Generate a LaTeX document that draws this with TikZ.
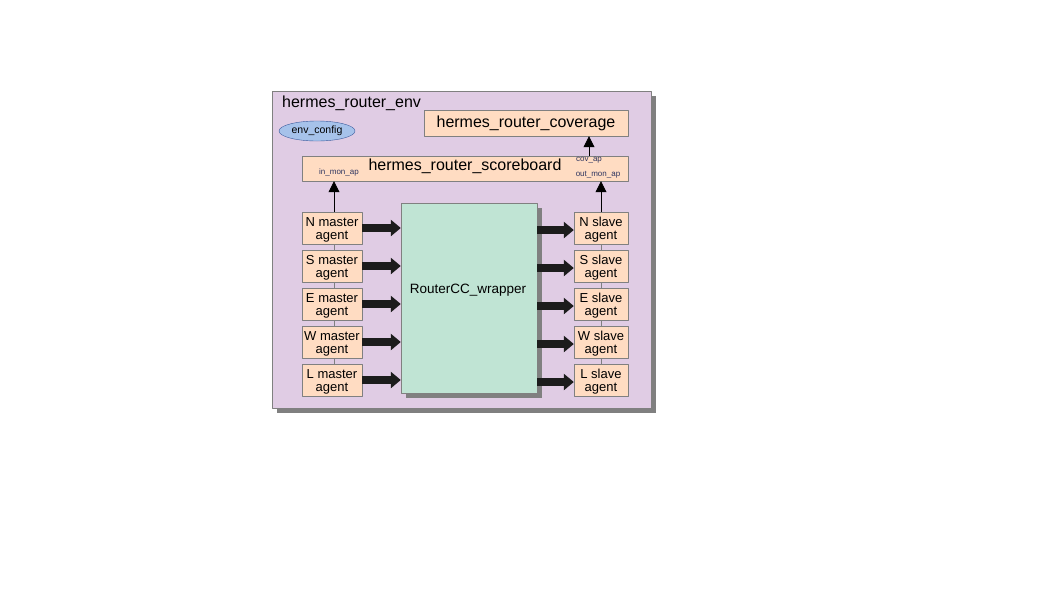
\documentclass[tikz,border=0pt]{standalone}
\usepackage{fontspec}
\setmainfont{Liberation Sans}
\usetikzlibrary{arrows.meta,shapes.geometric,shadows}
\definecolor{envfill}{HTML}{E0CCE4}
\definecolor{peach}{HTML}{FFDCC2}
\definecolor{wrapfill}{HTML}{C0E4D4}
\definecolor{cfgfill}{HTML}{A6C2EA}
\definecolor{cfgline}{HTML}{3A5A9C}
\definecolor{boxline}{HTML}{808080}
\definecolor{aplabel}{HTML}{2E3560}
\definecolor{busline}{HTML}{1C1C1C}
\begin{document}
\begin{tikzpicture}[x=1pt,y=-1pt,line join=round,>=stealth,
	peachbox/.style={draw=boxline,fill=peach,inner sep=0pt},
	agentbox/.style={peachbox,minimum height=32pt},
	agenttext/.style={align=center,inner sep=0pt,yshift=-1.5pt,font=\fontsize{13}{13}\selectfont},
	aptext/.style={font=\fontsize{8}{8}\selectfont,text=aplabel,inner sep=0pt},
	tiparrow/.style={-{Triangle[width=11pt,length=11pt]},black,line width=0.8pt},
	bus/.style={busline,line width=8.5pt,-{Triangle[width=16pt,length=10pt]}},
	greyshadow/.style={drop shadow={shadow xshift=5pt,shadow yshift=-5pt,fill=boxline,opacity=1}}]
	\useasboundingbox (0,0) rectangle (1058,595);
	% Cadre de l'environnement
	\node[draw=boxline,fill=envfill,greyshadow,minimum width=379pt,minimum height=317pt,inner sep=0pt] (env) at (461.5,249.5) {};
	\node[anchor=base west,inner sep=0pt,font=\fontsize{16}{16}\selectfont] (envtitle) at (282,107) {hermes\_router\_env};
	\node[ellipse,draw=cfgline,fill=cfgfill,minimum width=76pt,minimum height=20pt,inner sep=0pt,font=\fontsize{10.5}{10.5}\selectfont] (cfg) at (317,131) {env\_config};
	% Coverage et scoreboard
	\node[peachbox,minimum width=204pt,minimum height=26pt,font=\fontsize{16}{16}\selectfont] (cov) at (526,123) {hermes\_router\_coverage};
	\node[peachbox,minimum width=326pt,minimum height=25pt] (sb) at (465,168.5) {};
	\node[font=\fontsize{16}{16}\selectfont,inner sep=0pt] (sbtitle) at (465,166) {hermes\_router\_scoreboard};
	\node[aptext] (inmon) at (339,172) {in\_mon\_ap};
	\node[aptext] (covap) at (589,160) {cov\_ap};
	\node[aptext] (outmon) at (598,175) {out\_mon\_ap};
	% DUT
	\node[draw=boxline,fill=wrapfill,greyshadow,minimum width=136pt,minimum height=190pt,inner sep=0pt] (wrap) at (469,298) {};
	\node[inner sep=0pt,font=\fontsize{13.5}{13.5}\selectfont] (wraptitle) at (468,290) {RouterCC\_wrapper};
	% Lignes verticales des agents
	\draw[boxline] (334,380) -- (334,228);
	\draw[boxline] (601,380) -- (601,228);
	% Agents master et slave
	\foreach \p/\yy in {N/228,S/266,E/304,W/342,L/380}{
		\node[agentbox,minimum width=60pt] (m\p) at (332,\yy) {};
		\node[agenttext] (m\p text) at (m\p) {\p{} master\\agent};
		\node[agentbox,minimum width=54pt] (s\p) at (601,\yy) {};
		\node[agenttext] (s\p text) at (s\p) {\p{} slave\\agent};
		\draw[bus] (m\p.east) -- (wrap.west |- m\p.east);
		\draw[bus] ([yshift=-2pt]wrap.east |- s\p.west) -- ([yshift=-2pt]s\p.west);
	}
	% Fleches vers le scoreboard et la couverture
	\draw[tiparrow] (mN.north -| 334,0) -- (sb.south -| 334,0);
	\draw[tiparrow] (sN.north) -- (sb.south -| sN.north);
	\draw[tiparrow] (sb.north -| covap) -- (cov.south -| covap);
\end{tikzpicture}
\end{document}
